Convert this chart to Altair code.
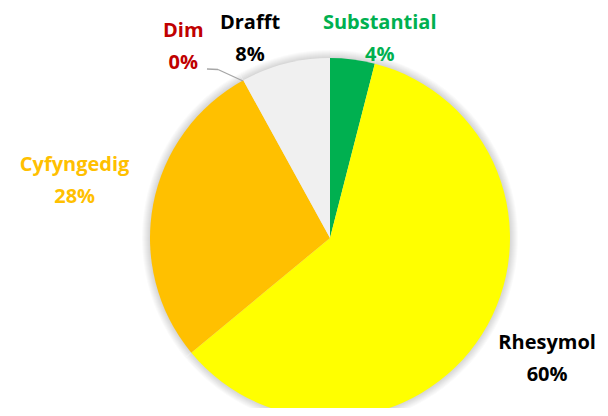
import altair as alt
import pandas as pd

# ---- data ----
categories = ["Substantial", "Rhesymol", "Cyfyngedig", "Dim", "Drafft"]
percent = [4, 60, 28, 0, 8]
slice_colors = ["#00B050", "#FFFF00", "#FFC000", "#C00000", "#F0F0F0"]
label_colors = ["#00B050", "#000000", "#FFC000", "#C00000", "#000000"]

df = pd.DataFrame({
    "category": categories,
    "value": percent,
    "order": list(range(len(categories))),
})
df["label"] = [f"{c}\n{v}%" for c, v in zip(categories, percent)]

CX, CY, R = 322, 230, 180
FONT = "Open Sans"

base = alt.Chart(df).encode(
    theta=alt.Theta("value:Q", stack=True),
    order=alt.Order("order:Q"),
    x=alt.value(CX),
    y=alt.value(CY),
)

# soft glow/shadow around the pie
shadows = [
    base.mark_arc(radius=R + k, color="black", opacity=0.018)
    for k in range(1, 9)
]

pie = base.mark_arc(radius=R).encode(
    color=alt.Color(
        "category:N",
        scale=alt.Scale(domain=categories, range=slice_colors),
        legend=None,
    )
)

# label placement (style, not data)
offsets = {
    "Substantial": (24, -12),
    "Rhesymol": (44, -5),
    "Cyfyngedig": (-54, -35),
    "Dim": (-48, -27),
    "Drafft": (-29, -16),
}

labels = []
for cat, col in zip(categories, label_colors):
    dx, dy = offsets[cat]
    labels.append(
        base.transform_calculate(
            lab=f"datum.category == '{cat}' ? datum.label : ''"
        ).mark_text(
            radius=205, dx=dx, dy=dy,
            font=FONT, fontSize=20, fontWeight="bold",
            color=col, lineBreak="\n", lineHeight=32,
            align="center", baseline="middle",
        ).encode(text="lab:N")
    )

# leader line for the 0% label
lead = pd.DataFrame({"k": [0]})
leader1 = alt.Chart(lead).mark_rule(color="#A6A6A6", strokeWidth=1.3).encode(
    x=alt.value(199), x2=alt.value(210), y=alt.value(61), y2=alt.value(61.5)
)
leader2 = alt.Chart(lead).mark_rule(color="#A6A6A6", strokeWidth=1.3).encode(
    x=alt.value(210), x2=alt.value(235), y=alt.value(61.5), y2=alt.value(73)
)

chart = alt.layer(*shadows, pie, leader1, leader2, *labels).properties(
    width=592, height=400, padding=0,
    autosize=alt.AutoSizeParams(type="none"),
).configure_view(stroke=None)

chart.save("out.html", embed_options={"renderer": "svg", "actions": False})
